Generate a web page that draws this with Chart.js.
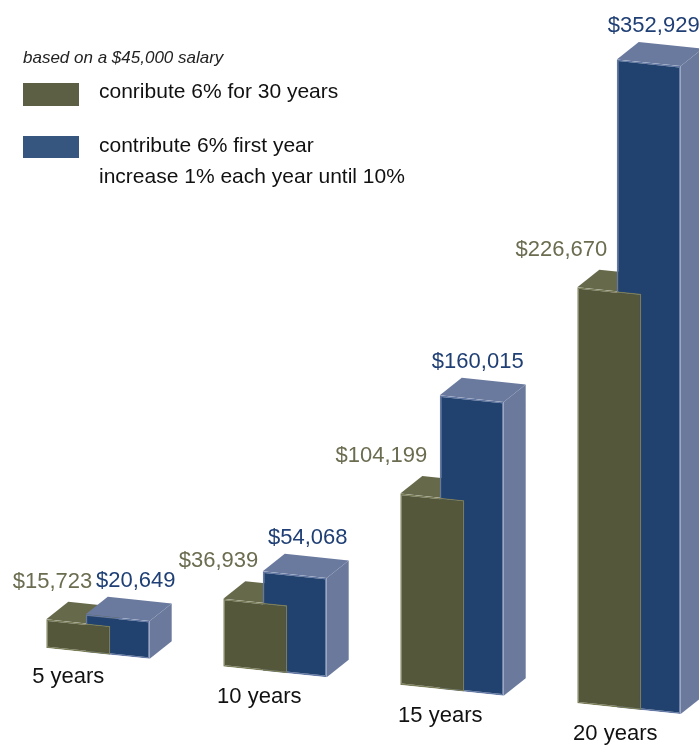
<!DOCTYPE html>
<html>
<head>
<meta charset="utf-8">
<script src="https://cdn.jsdelivr.net/npm/chart.js@4/dist/chart.umd.min.js"></script>
<style>
  html, body { margin: 0; padding: 0; background: #fff; }
  #wrap { width: 699px; height: 751px; }
</style>
</head>
<body>
<div id="wrap"><canvas id="savings" width="699" height="751"></canvas></div>
<script>
const periods = ['5 years', '10 years', '15 years', '20 years'];
const flatSix = [15723, 36939, 104199, 226670];
const stepUp = [20649, 54068, 160015, 352929];
const seriesNames = ['conribute 6% for 30 years', ['contribute 6% first year', 'increase 1% each year until 10%']];
const note = 'based on a $45,000 salary';

// fake perspective: plot is sheared down to the right, boxes get a depth offset
const SHEAR = 0.104;
const LIFT = -57.7;
const DEPTH = { x: 22, y: -17.5 };

// small label nudges (px) per group
const greenTagShift = [14, 3, -5, -2];
const blueTagShift = [18, 13, 6, 5];
const periodShift = [-10, 4, 8, 6];

const OLIVE = { front: '#55573a', edge: '#7a7d57', top: '#676a4a', text: '#6b6c50', key: '#5d5f44' };
const NAVY = { front: '#21416f', edge: '#6478a4', top: '#6a7a9f', side: '#6b7a9c', text: '#1f3f75', key: '#36557f' };
const FONT = '"Liberation Sans", Arial, sans-serif';

const money = v => '$' + v.toLocaleString('en-US');
const screenY = (x, y) => y + SHEAR * x + LIFT;

function poly(ctx, pts, fill) {
  ctx.beginPath();
  ctx.moveTo(pts[0][0], pts[0][1]);
  for (let i = 1; i < pts.length; i++) ctx.lineTo(pts[i][0], pts[i][1]);
  ctx.closePath();
  ctx.fillStyle = fill;
  ctx.fill();
}

function topFace(ctx, bar, dx, dy, fill) {
  const l = bar.x - bar.width / 2, r = bar.x + bar.width / 2;
  poly(ctx, [[l, bar.y], [r, bar.y], [r + dx, bar.y + dy], [l + dx, bar.y + dy]], fill);
}

function sideFace(ctx, bar, dx, dy, fill) {
  const r = bar.x + bar.width / 2;
  poly(ctx, [[r, bar.y], [r + dx, bar.y + dy], [r + dx, bar.base + dy], [r, bar.base]], fill);
}

const boxes = {
  id: 'boxes',
  beforeDatasetsDraw(chart) {
    chart.ctx.save();
    chart.ctx.transform(1, SHEAR, 0, 1, 0, LIFT);
  },
  beforeDatasetDraw(chart, args) {
    // navy set is painted first; put the extra faces down before it
    if (args.index !== 1) return;
    const ctx = chart.ctx;
    const dx = DEPTH.x, dy = DEPTH.y - SHEAR * DEPTH.x;
    chart.getDatasetMeta(0).data.forEach(bar => topFace(ctx, bar, dx, dy, OLIVE.top));
    chart.getDatasetMeta(1).data.forEach(bar => {
      sideFace(ctx, bar, dx, dy, NAVY.side);
      topFace(ctx, bar, dx, dy, NAVY.top);
    });
  },
  afterDatasetsDraw(chart) {
    chart.ctx.restore();
  },
  afterDraw(chart) {
    const ctx = chart.ctx;
    const zero = chart.scales.y.getPixelForValue(0);
    ctx.save();
    ctx.textBaseline = 'alphabetic';

    // value tags above each box
    ctx.font = '22px ' + FONT;
    chart.getDatasetMeta(0).data.forEach((bar, i) => {
      const l = bar.x - bar.width / 2;
      const backY = screenY(l, bar.y) + DEPTH.y;
      ctx.fillStyle = OLIVE.text;
      ctx.textAlign = 'right';
      ctx.fillText(money(flatSix[i]), bar.x + greenTagShift[i], backY - 14);
    });
    chart.getDatasetMeta(1).data.forEach((bar, i) => {
      const l = bar.x - bar.width / 2;
      const backY = screenY(l, bar.y) + DEPTH.y;
      ctx.fillStyle = NAVY.text;
      ctx.textAlign = 'center';
      ctx.fillText(money(stepUp[i]), bar.x + blueTagShift[i], backY - 10);
    });

    // period names under each group
    ctx.fillStyle = '#111';
    ctx.textAlign = 'center';
    chart.getDatasetMeta(0).data.forEach((bar, i) => {
      const cx = bar.x + periodShift[i];
      ctx.fillText(periods[i], cx, screenY(cx, zero) + 33);
    });

    // key
    ctx.textAlign = 'left';
    ctx.font = 'italic 17px ' + FONT;
    ctx.fillStyle = '#222';
    ctx.fillText(note, 23, 63);

    ctx.fillStyle = OLIVE.key;
    ctx.fillRect(23, 83, 56, 23);
    ctx.fillStyle = NAVY.key;
    ctx.fillRect(23, 136, 56, 22);

    ctx.font = '21px ' + FONT;
    ctx.fillStyle = '#111';
    ctx.fillText(seriesNames[0], 99, 98);
    ctx.fillText(seriesNames[1][0], 99, 152);
    ctx.fillText(seriesNames[1][1], 99, 183);
    ctx.restore();
  }
};

new Chart(document.getElementById('savings'), {
  type: 'bar',
  data: {
    labels: periods,
    datasets: [
      {
        label: 'conribute 6% for 30 years',
        data: flatSix,
        backgroundColor: OLIVE.front,
        borderColor: OLIVE.edge,
        borderWidth: 1.5,
        borderSkipped: false,
        clip: false
      },
      {
        label: 'contribute 6% first year, increase 1% each year until 10%',
        data: stepUp,
        backgroundColor: NAVY.front,
        borderColor: NAVY.edge,
        borderWidth: 1.5,
        borderSkipped: false,
        clip: false
      }
    ]
  },
  options: {
    responsive: false,
    animation: false,
    devicePixelRatio: 1,
    categoryPercentage: 0.446,
    barPercentage: 1.62,
    layout: { padding: { left: 98, right: 70, top: 40, bottom: 50 } },
    plugins: {
      legend: { display: false },
      tooltip: { enabled: false }
    },
    scales: {
      x: { display: false, offset: false, grid: { display: false } },
      y: { display: false, min: 0, max: 360000, grid: { display: false } }
    }
  },
  plugins: [boxes]
});
</script>
</body>
</html>
